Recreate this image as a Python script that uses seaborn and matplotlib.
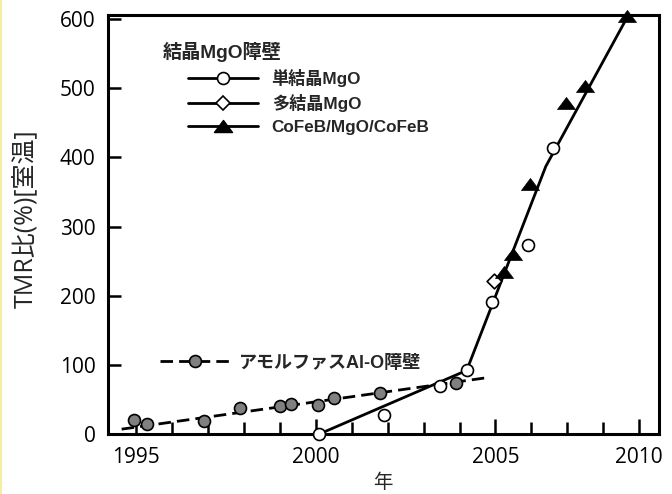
import numpy as np
import pandas as pd
import matplotlib
matplotlib.use('Agg')
import matplotlib.pyplot as plt
from matplotlib.path import Path
from matplotlib.lines import Line2D
from matplotlib.font_manager import FontProperties
import seaborn as sns

# ---- data ----
# amorphous Al-O barrier
alo_years = [1994.95, 1995.3, 1996.9, 1997.9, 1999.0, 1999.3, 2000.05, 2000.5, 2001.8, 2003.9]
alo_tmr = [20, 14, 19, 38, 40, 43, 42, 52, 60, 74]
alo_trend_years = [1994.6, 2004.7]
alo_trend_tmr = [7, 81]

# crystalline MgO barrier
sc_years = [2000.1, 2001.9, 2003.45, 2004.2, 2004.9, 2005.9, 2006.6]
sc_tmr = [0, 28, 69, 92, 191, 274, 413]
pc_years = [2004.95]
pc_tmr = [222]
cfb_years = [2005.25, 2005.5, 2005.95, 2006.97, 2007.5, 2008.67]
cfb_tmr = [234, 261, 361, 479, 504, 604]
mgo_trend_years = [2000.1, 2004.2, 2006.4, 2008.7]
mgo_trend_tmr = [0, 92, 387, 606]

xtick_pos = [1995, 2000, 2005, 2009]
xtick_labels = ["1995", "2000", "2005", "2010"]
xminor_pos = list(range(1995, 2010))
yticks = [0, 100, 200, 300, 400, 500, 600]

label_single = "単結晶MgO"
label_poly = "多結晶MgO"
label_cfb = "CoFeB/MgO/CoFeB"
label_alo = "アモルファスAl-O障壁"
title_mgo = "結晶MgO障壁"
xlabel = "年"
ylabel = "TMR比(%)[室温]"

# ---- style ----
sns.set_style("ticks")
plt.rcParams['font.family'] = ['Noto Sans CJK JP', 'DejaVu Sans']
plt.rcParams['axes.linewidth'] = 2.2

fig = plt.figure(figsize=(6.72, 4.94), dpi=100)
ax = fig.add_axes([108/672, 1-434/494, 551/672, 419/494])

tri = Path([(0, 1), (-1.5, -1), (1.5, -1), (0, 1)],
           [Path.MOVETO, Path.LINETO, Path.LINETO, Path.CLOSEPOLY])

lw = 2.0
dash = (4.5, 2.2)
# trend lines
sns.lineplot(x=alo_trend_years, y=alo_trend_tmr, ax=ax, color='black', lw=lw,
             sort=False, estimator=None, zorder=2, clip_on=False,
             linestyle=(0, dash))
sns.lineplot(x=mgo_trend_years, y=mgo_trend_tmr, ax=ax, color='black', lw=lw,
             sort=False, estimator=None, zorder=2, clip_on=False)

ms = 8.6
sns.scatterplot(x=alo_years, y=alo_tmr, ax=ax, s=ms**2, color='#808080',
                edgecolor='black', linewidth=1.2, zorder=3, clip_on=False)
sns.scatterplot(x=sc_years, y=sc_tmr, ax=ax, s=ms**2, color='white',
                edgecolor='black', linewidth=1.2, zorder=3, clip_on=False)
sns.scatterplot(x=pc_years, y=pc_tmr, ax=ax, s=7.5**2, marker='D', color='white',
                edgecolor='black', linewidth=1.2, zorder=3, clip_on=False)
sns.scatterplot(x=cfb_years, y=cfb_tmr, ax=ax, s=13**2, marker=tri, color='black',
                edgecolor='black', linewidth=0.5, zorder=4, clip_on=False)

ax.set_xlim(1994.22, 2009.55)
ax.set_ylim(0, 606)
ax.set_xticks(xtick_pos)
ax.set_xticklabels(xtick_labels)
ax.set_xticks(xminor_pos, minor=True)
ax.set_yticks(yticks)
ax.tick_params(axis='both', which='both', direction='in', width=1.8,
               labelsize=15, labelfontfamily='Open Sans', colors='black',
               top=False, right=False)
ax.tick_params(axis='x', which='major', length=11, pad=9)
ax.tick_params(axis='x', which='minor', length=9)
ax.tick_params(axis='y', which='major', length=9, pad=9)
for sp in ax.spines.values():
    sp.set_visible(True)
    sp.set_color('black')
    sp.set_linewidth(2.2)

ax.set_xlabel(xlabel, fontsize=14)
ax.set_ylabel(ylabel, fontsize=18, family=['Open Sans', 'Noto Sans CJK JP'])
ax.xaxis.set_label_coords(0.499, -0.090)
ax.yaxis.set_label_coords(-0.125, 0.513)

# legends
fam = ['Liberation Sans', 'Noto Sans CJK JP']
ax.text(0.1000, 0.912, title_mgo, transform=ax.transAxes, fontsize=13.8,
        fontweight='bold', va='center', ha='left', family=fam)
h1 = Line2D([], [], color='black', lw=lw, marker='o', ms=ms, mfc='white', mec='black', mew=1.2)
h2 = Line2D([], [], color='black', lw=lw, marker='D', ms=7.5, mfc='white', mec='black', mew=1.2)
h3 = Line2D([], [], color='black', lw=lw, marker=tri, ms=13, mfc='black', mec='black')
leg1 = ax.legend([h1, h2, h3], [label_single, label_poly, label_cfb], loc='upper left',
                 bbox_to_anchor=(0.145, 0.872), frameon=False, borderpad=0,
                 borderaxespad=0, handlelength=4.1, handletextpad=0.8,
                 labelspacing=0.45,
                 prop=FontProperties(family=fam, weight='bold', size=12.3))
ax.add_artist(leg1)
h4 = Line2D([], [], color='black', lw=lw, linestyle=(0, dash), marker='o', ms=ms,
            mfc='#808080', mec='black', mew=1.2)
leg2 = ax.legend([h4], [label_alo], loc='center left', bbox_to_anchor=(0.095, 0.169),
                 frameon=False, borderpad=0, borderaxespad=0, handlelength=3.8,
                 handletextpad=0.55,
                 prop=FontProperties(family=fam, weight='bold', size=13))

fig.add_artist(Line2D([0.002, 0.002], [0, 1], transform=fig.transFigure,
                      color='#f3eea0', lw=1.5))

fig.savefig('out.png', dpi=100)
